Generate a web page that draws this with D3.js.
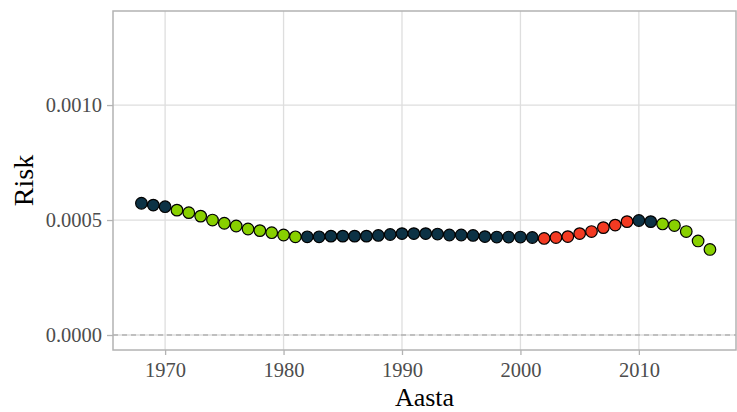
<!DOCTYPE html>
<html>
<head>
<meta charset="utf-8">
<script src="https://cdn.jsdelivr.net/npm/d3@7"></script>
<style>
  body { margin: 0; background: #fff; }
  svg text { font-family: "Liberation Serif", "DejaVu Serif", serif; }
</style>
</head>
<body>
<div id="chart-container"></div>
<script>
// yearly risk
const years = d3.range(1968, 2017);
const risk = [
    0.000573, 0.000565, 0.000558, 0.000543, 0.000532, 0.000517, 0.000500, 0.000486, 0.000474, 0.000461,
    0.000454, 0.000445, 0.000435, 0.000427, 0.000427, 0.000427, 0.000430, 0.000430, 0.000430, 0.000430,
    0.000433, 0.000437, 0.000441, 0.000441, 0.000441, 0.000439, 0.000435, 0.000435, 0.000433, 0.000428,
    0.000426, 0.000426, 0.000426, 0.000424, 0.000420, 0.000424, 0.000428, 0.000441, 0.000450, 0.000467,
    0.000478, 0.000493, 0.000498, 0.000493, 0.000483, 0.000476, 0.000450, 0.000409, 0.000372
];
// trend class per year: 'flat', 'down', 'up'
const trend = [
    'flat', 'flat', 'flat',
    'down', 'down', 'down', 'down', 'down', 'down', 'down', 'down', 'down', 'down', 'down',
    'flat', 'flat', 'flat', 'flat', 'flat', 'flat', 'flat', 'flat', 'flat', 'flat',
    'flat', 'flat', 'flat', 'flat', 'flat', 'flat', 'flat', 'flat', 'flat', 'flat',
    'up', 'up', 'up', 'up', 'up', 'up', 'up', 'up',
    'flat', 'flat',
    'down', 'down', 'down', 'down', 'down'
];
const xTicks = [1970, 1980, 1990, 2000, 2010];
const yTicks = [0, 0.0005, 0.0010];

const data = years.map((y, i) => ({year: y, risk: risk[i], trend: trend[i]}));

const width = 737, height = 412;
const panel = {left: 113, top: 11, right: 736, bottom: 350};

const colors = {flat: '#0c3245', down: '#88d000', up: '#f33a22'};

const svg = d3.select('#chart-container').append('svg')
    .attr('width', width)
    .attr('height', height);

const xScale = d3.scaleLinear()
    .domain([1965.6, 2018.2])
    .range([panel.left, panel.right]);

const yScale = d3.scaleLinear()
    .domain([-0.0000652, 0.001409])
    .range([panel.bottom, panel.top]);

// gridlines
svg.append('g').selectAll('line')
    .data(xTicks)
    .enter().append('line')
    .attr('x1', d => xScale(d)).attr('x2', d => xScale(d))
    .attr('y1', panel.top).attr('y2', panel.bottom)
    .style('stroke', '#dedede')
    .style('stroke-width', 1.3);

svg.append('g').selectAll('line')
    .data(yTicks)
    .enter().append('line')
    .attr('x1', panel.left).attr('x2', panel.right)
    .attr('y1', d => yScale(d)).attr('y2', d => yScale(d))
    .style('stroke', '#dedede')
    .style('stroke-width', 1.3);

// dashed zero line
svg.append('line')
    .attr('x1', panel.left).attr('x2', panel.right)
    .attr('y1', yScale(0)).attr('y2', yScale(0))
    .style('stroke', '#999')
    .style('stroke-width', 1)
    .style('stroke-dasharray', '5,4');

// axes
const xAxis = d3.axisBottom(xScale).tickValues(xTicks).tickFormat(d3.format('d')).tickSize(5).tickPadding(5);
const yAxis = d3.axisLeft(yScale).tickValues(yTicks).tickFormat(d3.format('.4f')).tickSize(6).tickPadding(5);

const gx = svg.append('g').attr('transform', `translate(0,${panel.bottom})`).call(xAxis);
const gy = svg.append('g').attr('transform', `translate(${panel.left},0)`).call(yAxis);

[gx, gy].forEach(g => {
    g.select('.domain').remove();
    g.selectAll('.tick line').style('stroke', '#b3b3b3').style('stroke-width', 1.3);
    g.selectAll('.tick text')
        .style('fill', '#4d4d4d')
        .style('font-size', '20.5px')
        .style('font-family', '"Liberation Serif", serif');
});
gx.selectAll('.tick text').attr('dy', '0.85em');

// panel border
svg.append('rect')
    .attr('x', panel.left).attr('y', panel.top)
    .attr('width', panel.right - panel.left)
    .attr('height', panel.bottom - panel.top)
    .style('fill', 'none')
    .style('stroke', '#b3b3b3')
    .style('stroke-width', 1.5);

// points
svg.append('g').selectAll('circle')
    .data(data)
    .enter().append('circle')
    .attr('cx', d => xScale(d.year))
    .attr('cy', d => yScale(d.risk))
    .attr('r', 5.8)
    .style('fill', d => colors[d.trend])
    .style('stroke', '#000')
    .style('stroke-width', 1.2);

// axis titles
svg.append('text')
    .attr('x', (panel.left + panel.right) / 2)
    .attr('y', 406)
    .attr('text-anchor', 'middle')
    .style('font-size', '26px')
    .style('fill', '#000')
    .text('Aasta');

svg.append('text')
    .attr('transform', `translate(33,${(panel.top + panel.bottom) / 2}) rotate(-90)`)
    .attr('text-anchor', 'middle')
    .style('font-size', '28px')
    .style('fill', '#000')
    .text('Risk');
</script>
</body>
</html>
